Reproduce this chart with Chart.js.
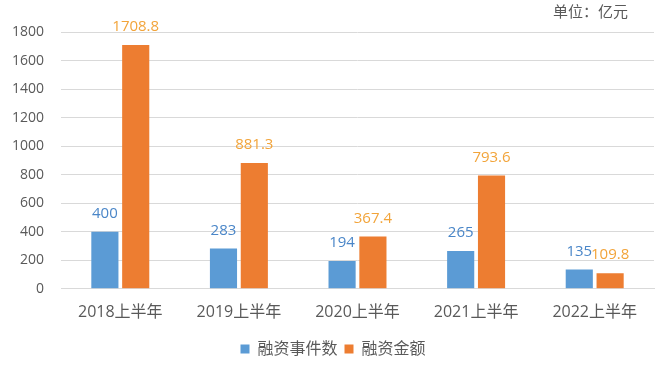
<!DOCTYPE html>
<html>
<head>
<meta charset="utf-8">
<script src="https://cdn.jsdelivr.net/npm/chart.js@4.4.0/dist/chart.umd.min.js"></script>
<style>
  html, body { margin:0; padding:0; background:#fff; }
  #wrap { width:656px; height:367px; position:relative; }
</style>
</head>
<body>
<div id="wrap"><canvas id="c"></canvas></div>
<script>
// ─── Data ────────────────────────────────────────────
const CATEGORIES  = ['2018上半年','2019上半年','2020上半年','2021上半年','2022上半年'];
const EVENTS      = [400, 283, 194, 265, 135];
const AMOUNTS     = [1708.8, 881.3, 367.4, 793.6, 109.8];
const SERIES_NAMES = ['融资事件数', '融资金额'];
const UNIT_TEXT   = '单位：亿元';

const FONT = "'Open Sans', 'Noto Sans CJK SC', sans-serif";
const TXT  = '#595959';

// labels above bars + unit note
const valueLabels = {
  id: 'valueLabels',
  afterDatasetsDraw(chart) {
    const ctx = chart.ctx;
    const colors = ['#4a86c8', '#f2a43a'];
    ctx.save();
    ctx.font = `15px ${FONT}`;
    ctx.textAlign = 'center';
    ctx.textBaseline = 'middle';
    chart.data.datasets.forEach((ds, i) => {
      chart.getDatasetMeta(i).data.forEach((bar, j) => {
        ctx.fillStyle = colors[i];
        ctx.fillText(String(ds.data[j]), bar.x, bar.y - 18);
      });
    });
    ctx.font = `15px ${FONT}`;
    ctx.fillStyle = TXT;
    ctx.textAlign = 'right';
    ctx.fillText(UNIT_TEXT, 628, 13);
    ctx.restore();
  }
};

new Chart(document.getElementById('c'), {
  type: 'bar',
  data: {
    labels: CATEGORIES,
    datasets: [
      { label: SERIES_NAMES[0], data: EVENTS,  backgroundColor: '#5b9bd5' },
      { label: SERIES_NAMES[1], data: AMOUNTS, backgroundColor: '#ed7d31' },
    ],
  },
  options: {
    responsive: true, maintainAspectRatio: false, animation: false,
    categoryPercentage: 0.52, barPercentage: 0.88,
    layout: { padding: { top: 32, left: 12, right: 2, bottom: 0 } },
    plugins: {
      legend: {
        position: 'bottom',
        labels: { color: TXT, font: { size: 16, family: FONT }, boxWidth: 9, boxHeight: 9, padding: 7 },
      },
      tooltip: { enabled: false },
    },
    scales: {
      x: {
        afterFit: s => { s.height -= 2; },
        ticks: { color: TXT, font: { size: 16, family: FONT }, padding: 14 },
        grid: { display: false, drawTicks: false },
        border: { color: '#d9d9d9' },
      },
      y: {
        min: 0, max: 1800,
        afterFit: s => { s.width = 49; },
        ticks: { stepSize: 200, color: TXT, font: { size: 14, family: FONT }, padding: 17, callback: v => String(v) },
        grid: { color: '#d9d9d9', drawTicks: false },
        border: { display: false },
      },
    },
  },
  plugins: [valueLabels],
});
</script>
</body>
</html>
